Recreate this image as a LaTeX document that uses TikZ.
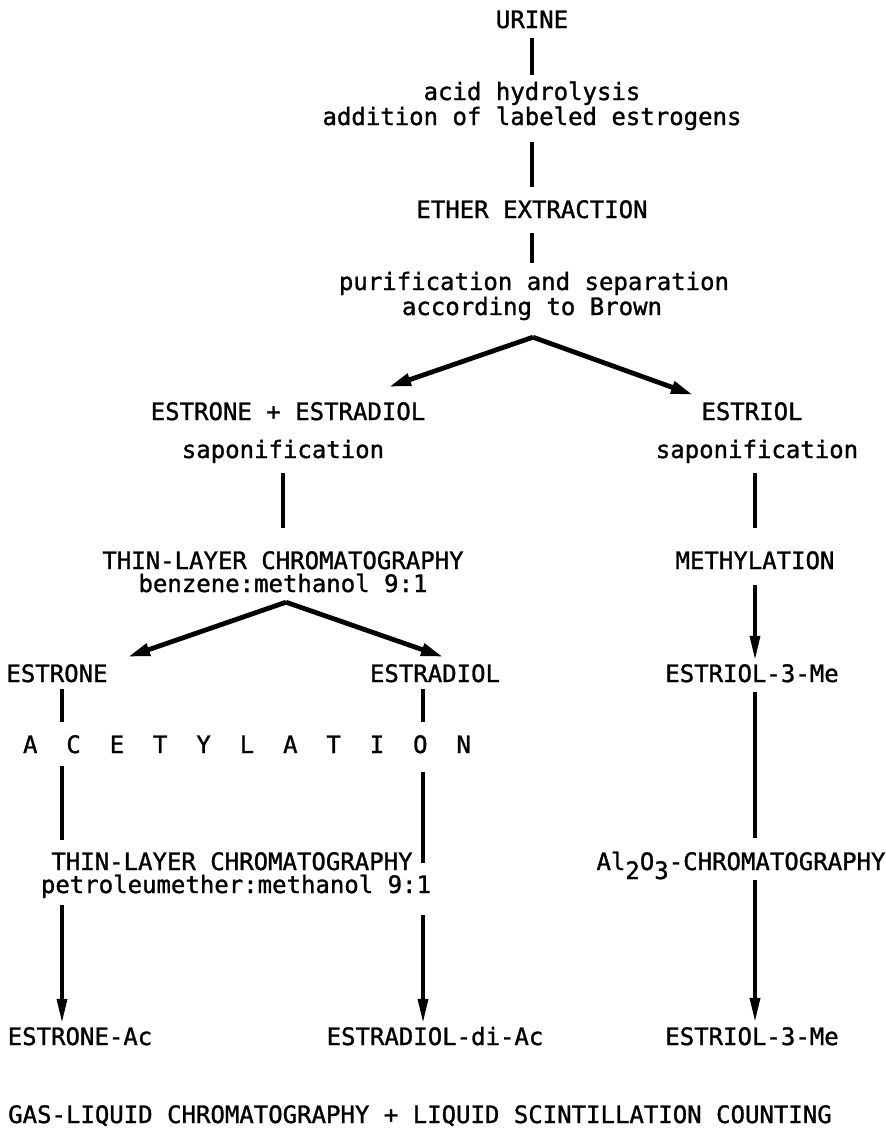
\documentclass[tikz,border=0pt]{standalone}
\usepackage{fontspec}
\newfontfamily\dmono[FakeBold=1.2]{DejaVu Sans Mono}
\usetikzlibrary{arrows.meta}
\begin{document}
\begin{tikzpicture}[x=1pt,y=-1pt,
  lbl/.style={inner sep=0pt, anchor=base, text height=18pt, text depth=6pt,
              font=\dmono\fontsize{24}{24}\selectfont},
  vline/.style={line width=3.8pt},
  varr/.style={line width=3.5pt, -{Triangle[length=24pt,width=10pt]}},
  darr/.style={line width=4.8pt, -{Triangle[length=22pt,width=12pt]}}]
\useasboundingbox[fill=white] (0,0) rectangle (886,1135);
% column positions
\coordinate (cT) at (532,0);
\coordinate (cL) at (62,0);
\coordinate (cM) at (423,0);
\coordinate (cR) at (755,0);
% top chain
\node[lbl] (urine) at (532,28) {URINE};
\node[lbl] (acid) at (532,100) {acid hydrolysis};
\node[lbl] (addit) at (532,125) {addition of labeled estrogens};
\node[lbl] (ether) at (532,218) {ETHER EXTRACTION};
\node[lbl] (purif) at (534,290) {purification and separation};
\node[lbl] (brown) at (532,315) {according to Brown};
% first split
\node[lbl] (ee) at (288,420) {ESTRONE + ESTRADIOL};
\node[lbl] (estriol) at (752,420) {ESTRIOL};
\node[lbl] (saponL) at (283,458) {saponification};
\node[lbl] (saponR) at (757,458) {saponification};
\node[lbl] (thin1) at (283,569) {THIN-LAYER CHROMATOGRAPHY};
\node[lbl] (benz) at (283,592) {benzene:methanol 9:1};
\node[lbl] (methyl) at (755,569) {METHYLATION};
% second split
\node[lbl] (estrone) at (57,682) {ESTRONE};
\node[lbl] (estradiol) at (435,682) {ESTRADIOL};
\node[lbl] (estriolMe) at (752,682) {ESTRIOL-3-Me};
\node[lbl] (acet) at (247,753) {A\ \ C\ \ E\ \ T\ \ Y\ \ L\ \ A\ \ T\ \ I\ \ O\ \ N};
\node[lbl] (thin2) at (232,870) {THIN-LAYER CHROMATOGRAPHY};
\node[lbl] (petrol) at (236,893) {petroleumether:methanol 9:1};
\node[lbl] (alox) at (741,870) {Al\raisebox{-9pt}{2}O\raisebox{-9pt}{3}-CHROMATOGRAPHY};
% products
\node[lbl] (estroneAc) at (80,1045) {ESTRONE-Ac};
\node[lbl] (estradiolAc) at (435,1045) {ESTRADIOL-di-Ac};
\node[lbl] (estriolMe2) at (752,1045) {ESTRIOL-3-Me};
\node[lbl] (glc) at (420,1123) {GAS-LIQUID CHROMATOGRAPHY + LIQUID SCINTILLATION COUNTING};
% connectors: top chain
\draw[vline] ([yshift=-4pt]urine.south -| cT) -- ([yshift=7pt]acid.north -| cT);
\draw[vline] ([yshift=-11pt]addit.south -| cT) -- ([yshift=13pt]ether.north -| cT);
\draw[vline] ([yshift=-9pt]ether.south -| cT) -- ([yshift=9pt]purif.north -| cT);
\coordinate (fork1) at ([xshift=1pt,yshift=-16pt]brown.south);
\draw[darr] (fork1) -- ([xshift=101pt,yshift=15pt]ee.north);
\draw[darr] (fork1) -- ([xshift=-59pt,yshift=7pt]estriol.north);
% left branch
\draw[vline] ([yshift=-9pt]saponL.south) -- ([yshift=23pt]thin1.north);
\coordinate (fork2) at ([xshift=3pt,yshift=-4pt]benz.south);
\draw[darr] (fork2) -- ([xshift=71pt,yshift=7pt]estrone.north);
\draw[darr] (fork2) -- ([xshift=8pt,yshift=7pt]estradiol.north);
\draw[vline] ([yshift=-1pt]estrone.south -| cL) -- ([yshift=13pt]acet.north -| cL);
\draw[vline] ([yshift=-1pt]estradiol.south -| cM) -- ([yshift=13pt]acet.north -| cM);
\draw[vline] ([yshift=-7pt]acet.south -| cL) -- ([yshift=12pt]thin2.north -| cL);
\draw[vline] ([yshift=-13pt]acet.south -| cM) -- ([yshift=7pt]thin2.base -| cM);
\draw[varr] ([yshift=-6pt]petrol.south -| cL) -- ([yshift=4pt]estroneAc.north -| cL);
\draw[varr] ([yshift=-16pt]petrol.south -| cM) -- ([yshift=4pt]estradiolAc.north -| cM);
% right branch
\draw[vline] ([yshift=-9pt]saponR.south -| cR) -- ([yshift=23pt]methyl.north -| cR);
\draw[varr] ([yshift=-10pt]methyl.south -| cR) -- ([yshift=4pt]estriolMe.north -| cR);
\draw[vline] ([yshift=-4pt]estriolMe.south -| cR) -- ([yshift=14pt]alox.north -| cR);
\draw[varr] ([yshift=-4pt]alox.south -| cR) -- ([yshift=5pt]estriolMe2.north -| cR);
\end{tikzpicture}
\end{document}
